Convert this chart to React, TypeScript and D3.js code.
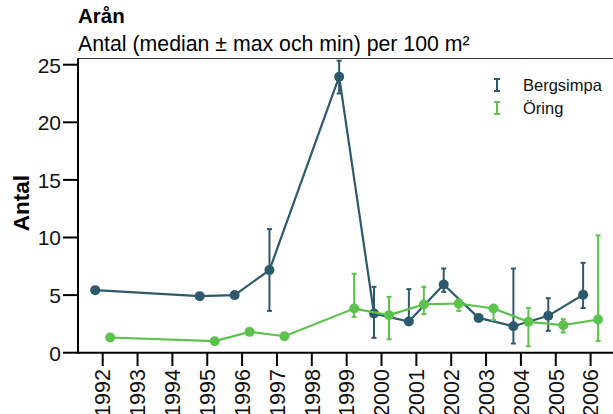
import React from "react";
import * as d3 from "d3";

const years = [1992, 1993, 1994, 1995, 1996, 1997, 1998, 1999, 2000, 2001, 2002, 2003, 2004, 2005, 2006];
const yTicks = [0, 5, 10, 15, 20, 25];

// Bergsimpa
const bergYears = [1992, 1995, 1996, 1997, 1999, 2000, 2001, 2002, 2003, 2004, 2005, 2006];
const bergMedian = [5.43, 4.91, 5.0, 7.17, 23.96, 3.4, 2.71, 5.92, 3.02, 2.3, 3.2, 5.03];
const bergMax = [5.43, 4.91, 5.0, 10.73, 25.35, 5.72, 5.52, 7.31, 3.02, 7.31, 4.73, 7.8];
const bergMin = [5.43, 4.91, 5.0, 3.63, 22.5, 1.29, 2.71, 5.28, 3.02, 0.8, 1.9, 3.88];

// Öring
const oringYears = [1992, 1995, 1996, 1997, 1999, 2000, 2001, 2002, 2003, 2004, 2005, 2006];
const oringMedian = [1.32, 1.0, 1.81, 1.43, 3.83, 3.26, 4.19, 4.27, 3.84, 2.68, 2.39, 2.88];
const oringMax = [1.32, 1.0, 1.81, 1.43, 6.85, 4.85, 5.72, 4.62, 3.9, 3.89, 2.91, 10.19];
const oringMin = [1.32, 1.0, 1.81, 1.43, 3.11, 1.17, 3.34, 3.63, 2.82, 0.56, 1.76, 1.03];

const seriesNames = ["Bergsimpa", "Öring"];
const colors = ["#2c5a6c", "#5cc24c"];

const W = 613;
const H = 414;
const left = 78;
const top = 58.5;
const bottom = 352.7;
const right = 613;

const font = "Arial, 'Liberation Sans', Helvetica, sans-serif";

export default function App() {
  const x = d3.scaleLinear().domain([1992, 2006]).range([102.7, 590.6]);
  const y = d3.scaleLinear().domain([0, 25]).range([bottom, 64.7]);

  const series = [
    { name: seriesNames[0], color: colors[0], off: -0.215, yrs: bergYears, med: bergMedian, max: bergMax, min: bergMin },
    { name: seriesNames[1], color: colors[1], off: 0.215, yrs: oringYears, med: oringMedian, max: oringMax, min: oringMin },
  ];

  const line = d3
    .line<[number, number]>()
    .x((d) => x(d[0]))
    .y((d) => y(d[1]));

  return (
    <svg
      width={W}
      height={H}
      style={{ position: "absolute", left: 0, top: 0, background: "#fff" }}
      fontFamily={font}
    >
      <rect x={0} y={0} width={W} height={H} fill="#fff" />
      {/* titles */}
      <text x={left} y={23} fontSize={20.5} fontWeight="bold" fill="#000">
        Arån
      </text>
      <text x={left} y={51} fontSize={21.3} fill="#000">
        Antal (median ± max och min) per 100 m²
      </text>

      {/* top border */}
      <line x1={left} x2={right} y1={top} y2={top} stroke="#333" strokeWidth={1.2} />

      {/* y axis */}
      <line x1={left} x2={left} y1={top} y2={bottom + 1} stroke="#000" strokeWidth={2} />
      {yTicks.map((t) => (
        <g key={t}>
          <line x1={63} x2={left} y1={y(t)} y2={y(t)} stroke="#000" strokeWidth={2} />
          <text x={61} y={y(t)} dy="0.38em" textAnchor="end" fontSize={21} fill="#111">
            {t}
          </text>
        </g>
      ))}
      <text
        transform={`translate(28.5,203) rotate(-90)`}
        textAnchor="middle"
        fontSize={22.5}
        fontWeight="bold"
        fill="#000"
      >
        Antal
      </text>

      {/* x axis */}
      <line x1={left - 1} x2={right} y1={bottom} y2={bottom} stroke="#000" strokeWidth={2} />
      {years.map((yr) => (
        <g key={yr}>
          <line x1={x(yr)} x2={x(yr)} y1={bottom} y2={366} stroke="#000" strokeWidth={2} />
          <text
            transform={`translate(${x(yr)},369) rotate(-90)`}
            textAnchor="end"
            dy="0.36em"
            fontSize={21.5}
            fill="#111"
          >
            {yr}
          </text>
        </g>
      ))}

      {/* series */}
      {series.map((s) => {
        const pts: [number, number][] = s.yrs.map((yr, i) => [yr + s.off, s.med[i]]);
        return (
          <g key={s.name}>
            <path d={line(pts) || ""} fill="none" stroke={s.color} strokeWidth={2.2} />
            {s.yrs.map((yr, i) => {
              const cx = x(yr + s.off);
              if (s.max[i] - s.min[i] < 0.05) return null;
              return (
                <g key={yr} stroke={s.color} strokeWidth={2}>
                  <line x1={cx} x2={cx} y1={y(s.max[i])} y2={y(s.min[i])} />
                  <line x1={cx - 2.5} x2={cx + 2.5} y1={y(s.max[i])} y2={y(s.max[i])} />
                  <line x1={cx - 2.5} x2={cx + 2.5} y1={y(s.min[i])} y2={y(s.min[i])} />
                </g>
              );
            })}
            {pts.map((p, i) => (
              <circle key={i} cx={x(p[0])} cy={y(p[1])} r={5} fill={s.color} />
            ))}
          </g>
        );
      })}

      {/* legend */}
      {series.map((s, i) => {
        const cy = 85 + i * 23;
        return (
          <g key={s.name}>
            <g stroke={s.color} strokeWidth={2}>
              <line x1={497} x2={497} y1={cy - 6} y2={cy + 6} />
              <line x1={494} x2={500} y1={cy - 6} y2={cy - 6} />
              <line x1={494} x2={500} y1={cy + 6} y2={cy + 6} />
            </g>
            <text x={523} y={cy} dy="0.36em" fontSize={16.5} fill="#111">
              {s.name}
            </text>
          </g>
        );
      })}
    </svg>
  );
}
